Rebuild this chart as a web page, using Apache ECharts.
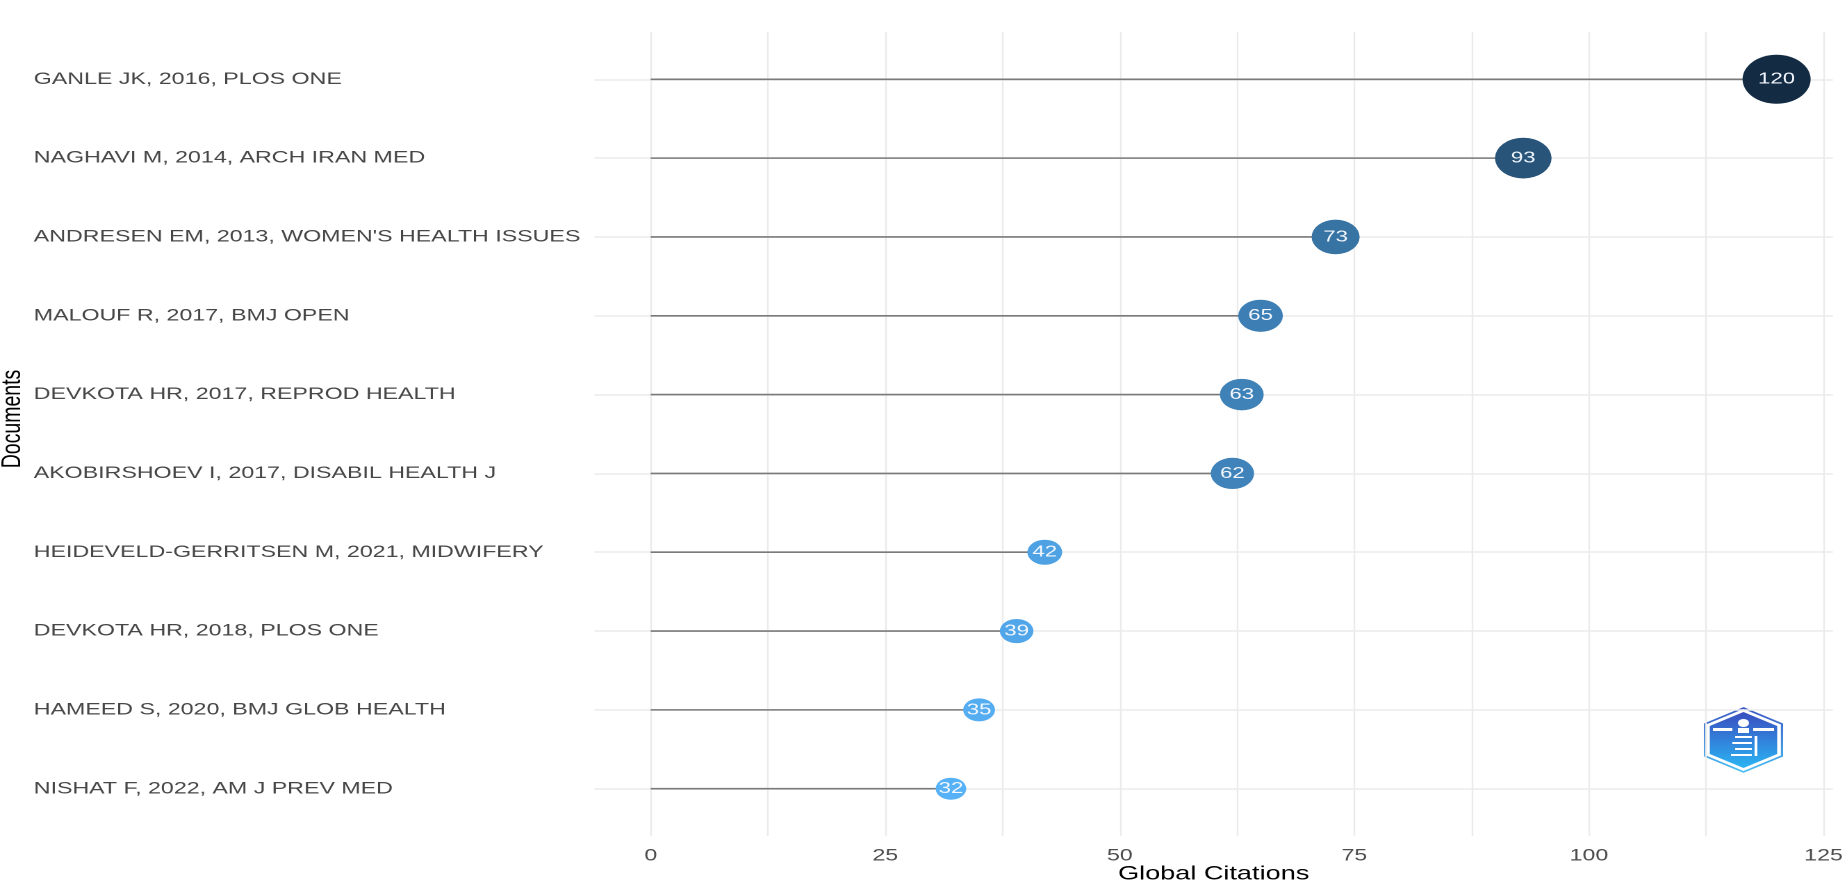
<!DOCTYPE html>
<html>
<head>
<meta charset="utf-8">
<script src="https://cdn.jsdelivr.net/npm/echarts@6/dist/echarts.min.js"></script>
<style>
html,body{margin:0;padding:0;background:#fff;overflow:hidden;width:1847px;height:889px;}
#wrap{width:1329px;height:889px;transform:scaleX(1.389767);transform-origin:0 0;}
#chart{width:1329px;height:889px;}
</style>
</head>
<body>
<div id="wrap"><div id="chart"></div></div>
<script>
const documents = [
  "GANLE JK, 2016, PLOS ONE",
  "NAGHAVI M, 2014, ARCH IRAN MED",
  "ANDRESEN EM, 2013, WOMEN'S HEALTH ISSUES",
  "MALOUF R, 2017, BMJ OPEN",
  "DEVKOTA HR, 2017, REPROD HEALTH",
  "AKOBIRSHOEV I, 2017, DISABIL HEALTH J",
  "HEIDEVELD-GERRITSEN M, 2021, MIDWIFERY",
  "DEVKOTA HR, 2018, PLOS ONE",
  "HAMEED S, 2020, BMJ GLOB HEALTH",
  "NISHAT F, 2022, AM J PREV MED"
];
const citations = [120, 93, 73, 65, 63, 62, 42, 39, 35, 32];
const xTickLabels = [0, 25, 50, 75, 100, 125];
const xGridValues = [0, 12.5, 25, 37.5, 50, 62.5, 75, 87.5, 100, 112.5, 125];

const rowIdx = documents.map((d, i) => i);
const points = citations.map((v, i) => [v, i]);
const cMin = Math.min(...citations), cMax = Math.max(...citations);

const chart = echarts.init(document.getElementById('chart'), null, {renderer: 'canvas', devicePixelRatio: 2});

function hex(r) {
  const pts = [];
  for (let k = 0; k < 6; k++) {
    const a = Math.PI / 180 * (-90 + 60 * k);
    pts.push([r * Math.cos(a), r * Math.sin(a)]);
  }
  return pts;
}

chart.setOption({
  animation: false,
  backgroundColor: '#ffffff',
  textStyle: {fontFamily: 'Liberation Sans, Arial, sans-serif'},
  grid: {left: 427.7, right: 5.5, top: 32, bottom: 52, containLabel: false},
  xAxis: {
    type: 'value', min: -6, max: 126,
    name: 'Global Citations', nameLocation: 'middle', nameGap: 28, nameMoveOverlap: false,
    nameTextStyle: {color: '#000000', fontSize: 19.5},
    axisLine: {show: false}, axisTick: {show: false, customValues: xGridValues},
    axisLabel: {customValues: xTickLabels, color: '#4D4D4D', fontSize: 16.7, margin: 11.5},
    splitLine: {show: true, lineStyle: {color: '#EBEBEB', width: 1.2}}
  },
  yAxis: {
    type: 'value', min: -0.6, max: 9.6, inverse: true,
    axisLine: {show: false}, axisTick: {show: false, customValues: rowIdx},
    axisLabel: {customValues: rowIdx, formatter: v => documents[v], align: 'left', margin: 403.4,
                color: '#474747', fontSize: 16.7},
    splitLine: {show: true, lineStyle: {color: '#EBEBEB', width: 1.5}}
  },
  visualMap: {
    type: 'continuous', show: false, dimension: 0, seriesIndex: 1,
    min: cMin, max: cMax, inRange: {color: ['#56B1F7', '#132B43']}
  },
  series: [
    {
      type: 'custom',
      data: points,
      encode: {x: 0, y: 1},
      renderItem: function (params, api) {
        const y = api.value(1);
        const p0 = api.coord([0, y]);
        const p1 = api.coord([api.value(0), y]);
        return {type: 'line', shape: {x1: p0[0], y1: p0[1], x2: p1[0], y2: p1[1]},
                style: {stroke: '#7A7A7A', lineWidth: 1.6}};
      },
      z: 2
    },
    {
      type: 'scatter',
      data: points,
      symbol: 'circle',
      symbolSize: function (val) { return 22 + (val[0] - cMin) * 27 / (cMax - cMin); },
      itemStyle: {opacity: 1},
      label: {show: true, position: 'inside', formatter: p => String(p.value[0]),
              color: '#F4F8FF', fontSize: 16},
      z: 3
    }
  ],
  graphic: [
    {
      type: 'group', x: 1254.5, y: 740,
      children: [
        {type: 'polygon', shape: {points: hex(32)},
         style: {fill: 'none', lineWidth: 1.6,
                 stroke: new echarts.graphic.LinearGradient(0, 0, 0, 1, [{offset: 0, color: '#3B55C4'}, {offset: 1, color: '#4CC3F5'}])}},
        {type: 'polygon', shape: {points: hex(28)},
         style: {fill: new echarts.graphic.LinearGradient(0, 0, 0, 1, [{offset: 0, color: '#3A4EC0'}, {offset: 1, color: '#2BB5F4'}])}},
        {type: 'rect', shape: {x: -22, y: -12, width: 14, height: 3}, style: {fill: '#ffffff'}},
        {type: 'rect', shape: {x: 7, y: -12, width: 15, height: 3}, style: {fill: '#ffffff'}},
        {type: 'circle', shape: {cx: 0, cy: -17, r: 4}, style: {fill: '#ffffff'}},
        {type: 'rect', shape: {x: -4, y: -12, width: 8, height: 5}, style: {fill: '#ffffff'}},
        {type: 'rect', shape: {x: -6, y: -4, width: 12, height: 2}, style: {fill: '#ffffff'}},
        {type: 'rect', shape: {x: -8, y: 2, width: 14, height: 2}, style: {fill: '#ffffff'}},
        {type: 'rect', shape: {x: -6, y: 8, width: 12, height: 2}, style: {fill: '#ffffff'}},
        {type: 'rect', shape: {x: -9, y: 14, width: 15, height: 2}, style: {fill: '#ffffff'}},
        {type: 'rect', shape: {x: 8, y: -4, width: 2, height: 20}, style: {fill: '#ffffff'}}
      ]
    },
    {
      type: 'text', x: 9, y: 419, rotation: Math.PI / 2,
      style: {text: 'Documents', fill: '#000000', fontSize: 19.5, align: 'center', verticalAlign: 'middle',
              fontFamily: 'Liberation Sans, Arial, sans-serif'}
    }
  ]
});
</script>
</body>
</html>
